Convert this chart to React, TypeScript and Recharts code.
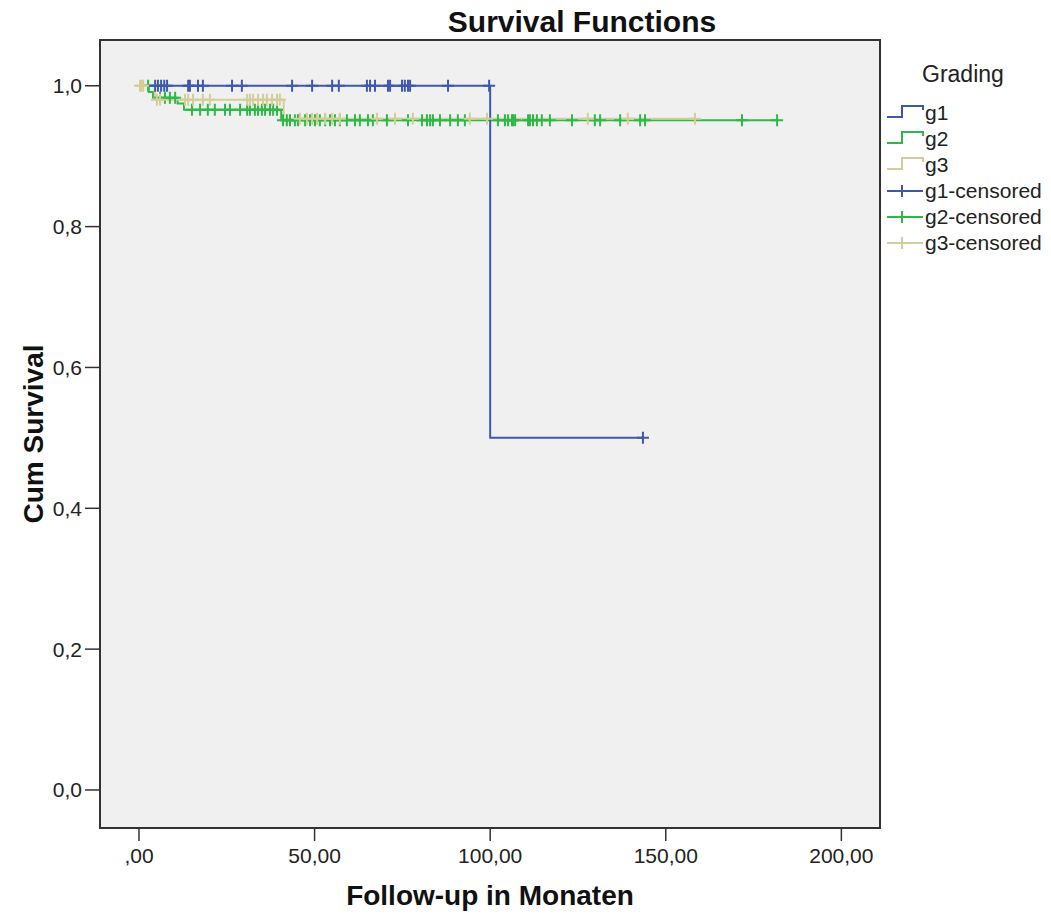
import { ComposedChart, Line, Scatter, XAxis, YAxis, CartesianGrid, ReferenceArea } from "recharts";

// Kaplan-Meier step curves (time in months, cumulative survival)
const g1Times = [0, 100, 143.5];
const g1Surv = [1, 0.5, 0.5];
const g2Times = [0, 2.8, 4.0, 11.0, 12.8, 40.5, 181.7];
const g2Surv = [1, 0.991, 0.983, 0.975, 0.966, 0.951, 0.951];
const g3Times = [0, 4.5, 41.2, 158.3];
const g3Surv = [1, 0.98, 0.953, 0.953];

// censored observations (time)
const g1Censored = [4.6, 5.4, 6.3, 7.2, 8.0, 14.0, 14.5, 16.8, 18.2, 26.5, 29.3, 43.6, 49.3, 55.0, 56.9, 64.9, 65.8, 67.2, 70.9, 71.5, 74.9, 75.7, 76.6, 77.2, 88.0, 99.7, 143.5];
const g2Censored = [2.6, 6.0, 7.4, 8.8, 10.3, 15.1, 17.4, 19.6, 21.6, 24.5, 25.9, 28.8, 30.8, 31.6, 33.0, 33.9, 35.0, 35.9, 37.3, 38.2, 39.3, 41.0, 42.1, 43.0, 44.4, 45.3, 47.3, 48.7, 50.1, 51.5, 53.0, 54.4, 55.8, 57.2, 59.2, 61.5, 62.9, 65.2, 66.6, 70.6, 76.6, 80.6, 82.0, 82.9, 83.7, 85.7, 88.6, 90.8, 92.8, 102.2, 104.2, 105.1, 106.2, 106.5, 107.1, 110.8, 111.3, 112.2, 113.3, 114.7, 117.0, 123.3, 129.8, 131.3, 137.0, 142.7, 144.1, 171.7, 181.7];
const g3Censored = [0.3, 0.8, 1.2, 5.1, 6.0, 13.1, 14.0, 15.4, 18.2, 20.2, 30.8, 31.6, 32.5, 33.9, 35.3, 36.4, 37.9, 39.3, 40.1, 45.8, 47.8, 49.3, 50.7, 53.0, 55.0, 57.2, 67.8, 72.9, 78.0, 94.2, 99.1, 127.8, 139.2, 158.3];

const xTicks = [0, 50, 100, 150, 200];
const yTicks = [0, 0.2, 0.4, 0.6, 0.8, 1.0];
const legendNames = ["g1", "g2", "g3", "g1-censored", "g2-censored", "g3-censored"];

const X_MIN = -11.1;
const X_MAX = 211;
const Y_MIN = -0.054;
const Y_MAX = 1.065;

const BLUE = "#3e58ac";
const GREEN = "#2eb848";
const TAN = "#d3ce97";
const FONT = "'Liberation Sans', Arial, sans-serif";

const stepData = (times: number[], surv: number[]) =>
  times.map((t, i) => ({ t, s: surv[i] }));

// survival value at a censoring time
const survAt = (times: number[], surv: number[], t: number) => {
  let s = surv[0];
  for (let i = 0; i < times.length; i++) {
    if (times[i] <= t) s = surv[i];
  }
  return s;
};

const censorData = (cens: number[], times: number[], surv: number[]) =>
  cens.map((t) => ({ t, s: survAt(times, surv, t) }));

const plusShape = (color: string) => (props: any) => {
  const { cx, cy } = props;
  return (
    <path
      d={`M${cx - 6},${cy}h12M${cx},${cy - 6}v12`}
      stroke={color}
      strokeWidth={2}
      fill="none"
    />
  );
};

const fmtX = (v: number) => (v === 0 ? ",00" : v.toFixed(2).replace(".", ","));
const fmtY = (v: number) => v.toFixed(1).replace(".", ",");

const Legend = () => {
  const colors = [BLUE, GREEN, TAN, BLUE, GREEN, TAN];
  return (
    <svg
      width={171}
      height={230}
      style={{ position: "absolute", left: 880, top: 40, pointerEvents: "none" }}
    >
      <text x={42} y={42} fontFamily={FONT} fontSize={23} fill="#222">
        Grading
      </text>
      {legendNames.map((name, i) => {
        const yc = 73 + 26 * i;
        const c = colors[i];
        return (
          <g key={name}>
            {i < 3 ? (
              <path
                d={`M7,${yc + 4}H22V${yc - 7}H43V${yc - 3}`}
                stroke={c}
                strokeWidth={2}
                fill="none"
              />
            ) : (
              <path
                d={`M7,${yc}H43M22,${yc - 6}V${yc + 6}`}
                stroke={c}
                strokeWidth={2}
                fill="none"
              />
            )}
            <text x={45} y={yc + 7} fontFamily={FONT} fontSize={21} fill="#222">
              {name}
            </text>
          </g>
        );
      })}
    </svg>
  );
};

export default function App() {
  const tickStyle = { fontSize: 21, fill: "#222", fontFamily: FONT };
  const titleStyle = { fontSize: 28, fontWeight: 700, fill: "#111", fontFamily: FONT };
  return (
    <div style={{ position: "absolute", left: 0, top: 0, width: 1051, height: 918, background: "#fff" }}>
      <svg width={1051} height={40} style={{ position: "absolute", left: 0, top: 0 }}>
        <text x={582} y={32} textAnchor="middle" fontFamily={FONT} fontSize={30} fontWeight={700} fill="#111">
          Survival Functions
        </text>
      </svg>
      <div style={{ position: "absolute", left: 0, top: 0 }}>
        <ComposedChart width={1051} height={918} margin={{ top: 40, right: 171, bottom: 0, left: 0 }}>
          <CartesianGrid fill="#f0f0f0" horizontal={false} vertical={false} />
          <XAxis
            type="number"
            dataKey="t"
            domain={[X_MIN, X_MAX]}
            allowDataOverflow
            ticks={xTicks}
            tickFormatter={fmtX}
            height={90}
            axisLine={false}
            tickLine={{ stroke: "#333", strokeWidth: 1.5 }}
            tickSize={13}
            tickMargin={7}
            tick={tickStyle}
            label={{ value: "Follow-up in Monaten", position: "insideBottom", offset: 13, style: titleStyle }}
          />
          <YAxis
            type="number"
            dataKey="s"
            domain={[Y_MIN, Y_MAX]}
            allowDataOverflow
            ticks={yTicks}
            tickFormatter={fmtY}
            width={100}
            axisLine={false}
            tickLine={{ stroke: "#333", strokeWidth: 1.5 }}
            tickSize={15}
            tickMargin={3}
            tick={tickStyle}
            label={{ value: "Cum Survival", angle: -90, position: "insideLeft", offset: 33, style: { ...titleStyle, textAnchor: "middle" } }}
          />
          <ReferenceArea
            x1={X_MIN}
            x2={X_MAX}
            y1={Y_MIN}
            y2={Y_MAX}
            fill="none"
            stroke="#333"
            strokeWidth={2}
            ifOverflow="visible"
          />
          <Line data={stepData(g2Times, g2Surv)} dataKey="s" type="stepAfter" stroke={GREEN} strokeWidth={2} dot={false} isAnimationActive={false} />
          <Line data={stepData(g3Times, g3Surv)} dataKey="s" type="stepAfter" stroke={TAN} strokeWidth={2} dot={false} isAnimationActive={false} />
          <Line data={stepData(g1Times, g1Surv)} dataKey="s" type="stepAfter" stroke={BLUE} strokeWidth={2} dot={false} isAnimationActive={false} />
          <Scatter data={censorData(g2Censored, g2Times, g2Surv)} dataKey="s" shape={plusShape(GREEN)} isAnimationActive={false} />
          <Scatter data={censorData(g3Censored, g3Times, g3Surv)} dataKey="s" shape={plusShape(TAN)} isAnimationActive={false} />
          <Scatter data={censorData(g1Censored, g1Times, g1Surv)} dataKey="s" shape={plusShape(BLUE)} isAnimationActive={false} />
        </ComposedChart>
      </div>
      <Legend />
    </div>
  );
}
